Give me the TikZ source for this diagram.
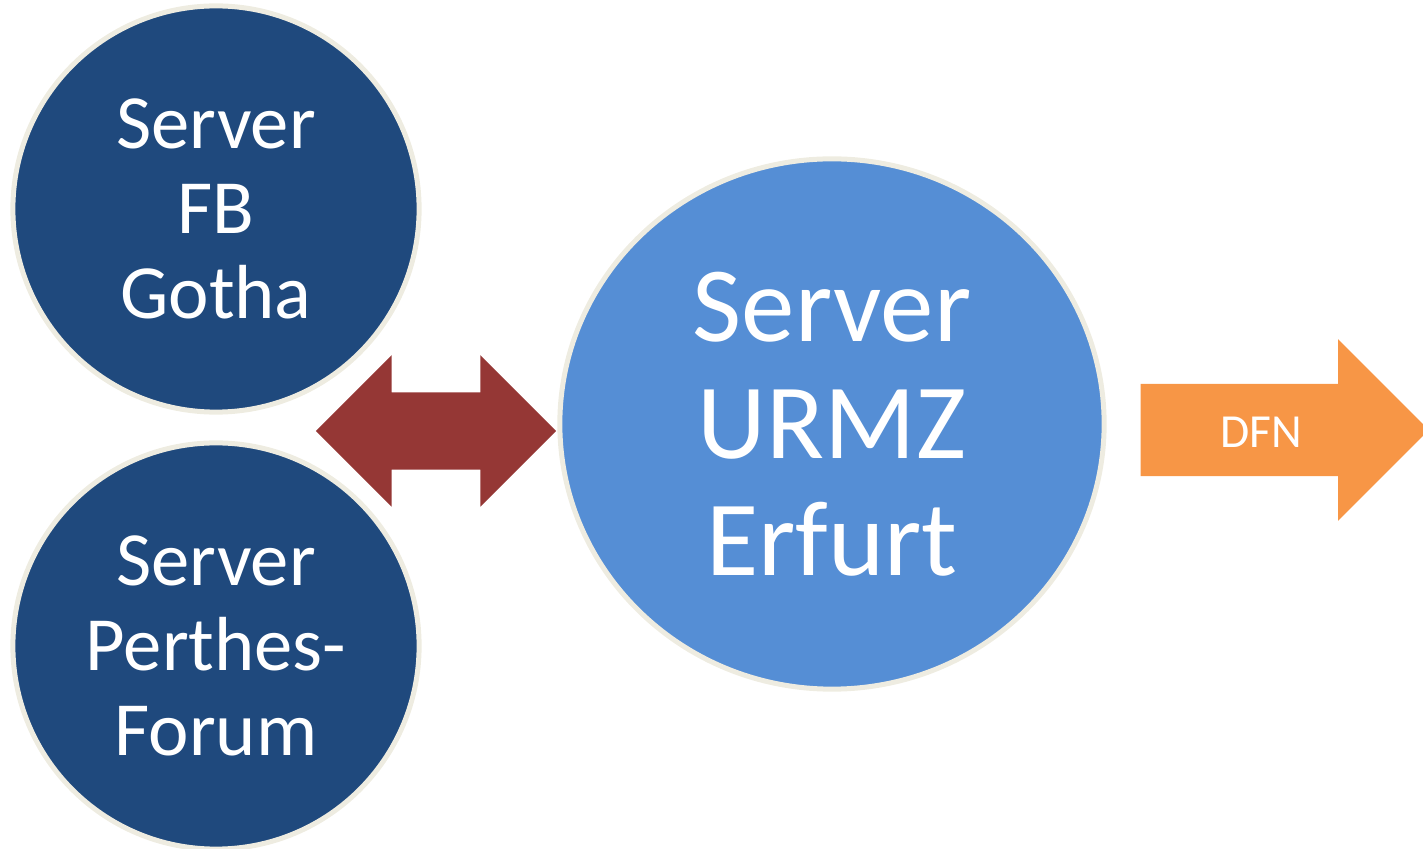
\documentclass[tikz,border=0pt]{standalone}
\usepackage{fontspec}
\setmainfont{Carlito}
\usetikzlibrary{shapes.geometric,shapes.arrows}
\definecolor{darkblue}{HTML}{1F497D}
\definecolor{lightblue}{HTML}{558ED5}
\definecolor{rim}{HTML}{EEECE1}
\definecolor{brickred}{HTML}{953735}
\definecolor{orangefill}{HTML}{F79646}

\begin{document}
\begin{tikzpicture}[x=0.01cm,y=-0.01cm]
\tikzstyle{srv}=[circle,draw=rim,line width=0.05cm,fill=darkblue,text=white,minimum size=4.06cm,inner sep=0pt,align=center,font=\fontsize{21.8}{24.2}\selectfont]
\tikzstyle{hub}=[ellipse,draw=rim,line width=0.05cm,fill=lightblue,text=white,minimum width=5.44cm,minimum height=5.30cm,inner sep=0pt,align=center,font=\fontsize{30.4}{33.3}\selectfont]
\tikzstyle{link}=[double arrow,fill=brickred,inner xsep=0pt,inner ysep=0.38cm,double arrow head extend=0.37cm,double arrow tip angle=90,minimum height=2.40cm]
\tikzstyle{uplink}=[single arrow,fill=orangefill,inner xsep=0pt,inner ysep=0.455cm,single arrow head extend=0.445cm,single arrow tip angle=90,minimum height=2.88cm,anchor=tail]
\useasboundingbox (0,0) rectangle (1423,849);
\node [srv] (gotha) at (216,209) {Server\\FB\\Gotha};
\node [srv] (perthes) at (216,646) {Server\\Perthes-\\Forum};
\node [hub] (erfurt) at (832,424) {Server\\URMZ\\Erfurt};
\node [link] (exchange) at (436,431) {};
\node [uplink] (dfnarrow) at (1140,430) {};
\node [text=white,font=\fontsize{13.5}{15}\selectfont] (dfn) at (1261,432) {DFN};
\end{tikzpicture}
\end{document}
